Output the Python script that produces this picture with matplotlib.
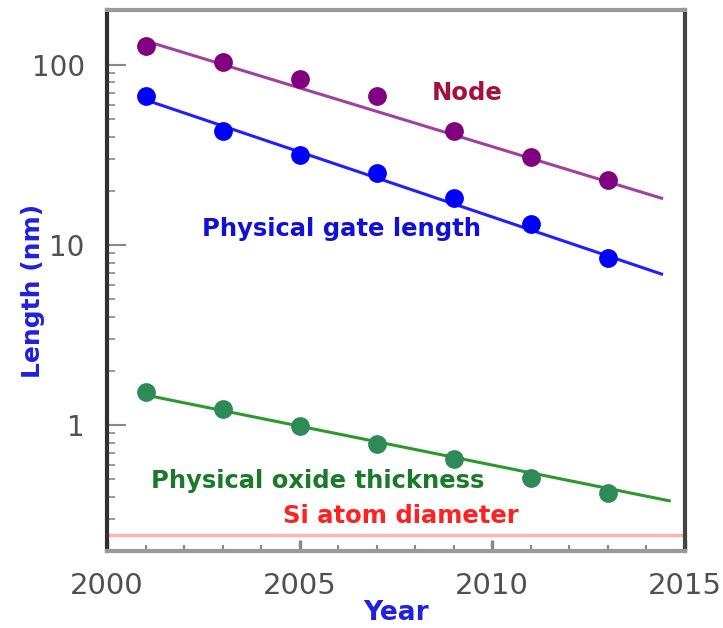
import matplotlib
matplotlib.use("Agg")
import matplotlib.pyplot as plt
from matplotlib.ticker import FixedLocator, LogLocator, NullFormatter

plt.rcParams['font.family'] = ['DejaVu Sans']

# data
years = [2001, 2003, 2005, 2007, 2009, 2011, 2013]
node = [128, 104, 84, 67, 43, 31, 23]
gate = [67, 43, 31.6, 25, 18.3, 13.1, 8.5]
oxide = [1.52, 1.23, 0.99, 0.79, 0.65, 0.51, 0.42]

# trend lines (start/end)
trend_x = [2001, 2014.4]
node_trend = [136, 18.2]
gate_trend = [64, 6.9]
oxide_x = [2001, 2014.6]
oxide_trend = [1.47, 0.38]

si_atom = 0.245

fig = plt.figure(figsize=(7.23, 6.28), dpi=100)
ax = fig.add_axes([0.148, 0.1226, 0.799, 0.8615])

ax.axhline(si_atom, color='#ffb3b3', lw=2.5, zorder=1, clip_on=False)

ax.plot(trend_x, node_trend, color='#a040a0', lw=2.2)
ax.plot(years, node, 'o', color='#800080', ms=12.5)
ax.plot(trend_x, gate_trend, color='#2020ff', lw=2.2)
ax.plot(years, gate, 'o', color='#0000ff', ms=12.5)
ax.plot(oxide_x, oxide_trend, color='#2a9a2a', lw=2.2)
ax.plot(years, oxide, 'o', color='#2e8b57', ms=12.5)

ax.set_yscale('log')
ax.set_xlim(2000, 2015)
ax.set_ylim(0.2, 202)

ax.set_yticks([1, 10, 100])
ax.set_yticklabels(['1', '10', '100'])
ax.yaxis.set_minor_locator(LogLocator(base=10, subs=range(2, 10)))
ax.yaxis.set_minor_formatter(NullFormatter())
ax.set_xticks([2000, 2005, 2010, 2015])
ax.xaxis.set_minor_locator(FixedLocator(range(2000, 2016)))

ax.tick_params(axis='both', which='both', direction='in', top=False, right=False,
               colors='#888888', labelcolor='#505050', labelsize=21)
ax.tick_params(axis='y', which='major', length=14, width=1.5, pad=16, labelsize=20)
ax.tick_params(axis='y', which='minor', length=6, width=1.2)
ax.tick_params(axis='x', which='major', length=8, width=2.5, pad=15)
ax.tick_params(axis='x', which='minor', length=4, width=1.5)

ax.spines['left'].set_color('#303030')
ax.spines['left'].set_linewidth(3)
ax.spines['bottom'].set_color('#999999')
ax.spines['bottom'].set_linewidth(3)
ax.spines['top'].set_color('#999999')
ax.spines['top'].set_linewidth(3)
ax.spines['right'].set_color('#444444')
ax.spines['right'].set_linewidth(3)

ax.set_ylabel('Length (nm)', color='#2020e0', fontsize=18, fontweight='bold')
ax.yaxis.set_label_coords(-0.108, 0.48)
ax.set_xlabel('Year', color='#2020e0', fontsize=19, fontweight='bold', labelpad=0)

ax.text(2009.35, 69.9, 'Node', color='#a5103f', fontsize=17.5, fontweight='bold', ha='center', va='center')
ax.text(2006.08, 12.27, 'Physical gate length', color='#1010d8', fontsize=17.5, fontweight='bold', ha='center', va='center')
ax.text(2005.48, 0.489, 'Physical oxide thickness', color='#1a7a2a', fontsize=17.5, fontweight='bold', ha='center', va='center')
ax.text(2007.64, 0.312, 'Si atom diameter', color='#ff2020', fontsize=17.5, fontweight='bold', ha='center', va='center')

fig.savefig('out.png', dpi=100)
